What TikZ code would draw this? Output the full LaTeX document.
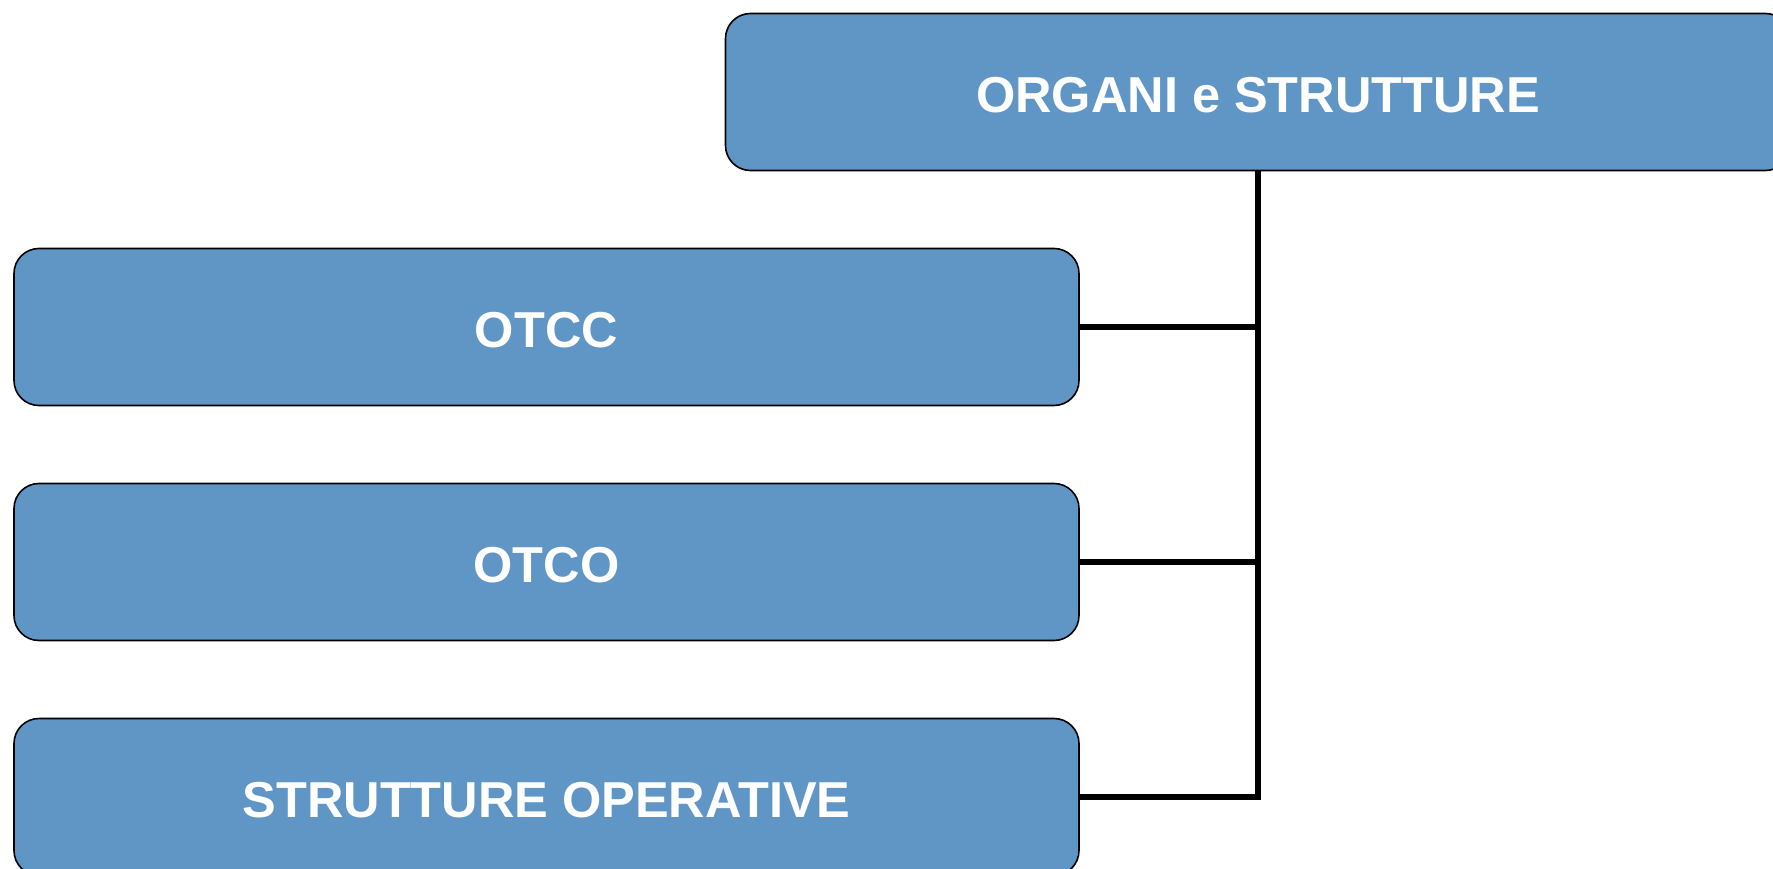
\documentclass[tikz,border=0pt]{standalone}
\usepackage{fontspec}
\setmainfont{Liberation Sans}
\definecolor{boxblue}{RGB}{96,150,198}
\begin{document}
\begin{tikzpicture}[x=1pt,y=-1pt,
  orgbox/.style={draw=black,line width=1.6pt,fill=boxblue,rounded corners=25pt,
    minimum width=1065pt,minimum height=157pt,inner sep=0pt,
    text height=41.5pt,text depth=0pt,
    text=white,font=\fontsize{50.5}{60}\selectfont\bfseries},
  conn/.style={draw=black,line width=5.5pt}]
\useasboundingbox (0,0) rectangle (1773,869);
\clip (0,0) rectangle (1773,869);
\node[orgbox] (top) at (1258,92) {ORGANI e STRUTTURE};
\node[orgbox] (c) at (546.5,327) {OTCC};
\node[orgbox] (o) at (546.5,562) {OTCO};
\node[orgbox] (s) at (546.5,797) {STRUTTURE OPERATIVE};
\draw[conn] (top.south) |- (s.east);
\draw[conn] (c.east) -- (c.east -| top.south);
\draw[conn] (o.east) -- (o.east -| top.south);
\end{tikzpicture}
\end{document}
